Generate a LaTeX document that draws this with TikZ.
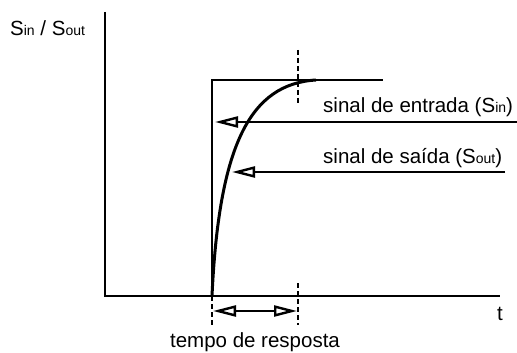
\documentclass[tikz,border=0pt]{standalone}
\usepackage{fontspec}
\setmainfont{Liberation Sans}
\usetikzlibrary{arrows.meta}
\newcommand{\sub}[1]{{\fontsize{14}{14}\selectfont #1}}
\tikzset{
  axis/.style={line width=2.5pt},
  signal/.style={line width=3pt},
  guide/.style={line width=1.6pt, dash pattern=on 5pt off 3pt},
  pointer/.style={line width=2.4pt, -{Triangle[open,length=23pt,width=11pt]}},
  label/.style={inner sep=0pt, anchor=base west, font=\fontsize{20.5}{24}\selectfont}
}
\begin{document}
\begin{tikzpicture}[x=1pt, y=-1pt]
  \useasboundingbox (0,0) rectangle (517,353);
  % axes
  \coordinate (o) at (105,296);
  \coordinate (ytop) at (105,12);
  \coordinate (xend) at (500,296);
  \draw[axis] (ytop) -- (o) -- (xend);
  \node[label] (ylab) at (10,36) {S\sub{in} / S\sub{out}};
  \node[label] (tlab) at (497,320) {t};
  % step input
  \coordinate (s0) at (212,296);
  \coordinate (s1) at (212,80);
  \coordinate (s2) at (383,80);
  \draw[axis] (s0) -- (s1) -- (s2);
  % output response
  \coordinate (r1) at (316,80);
  \draw[signal] (s0) .. controls (219,145) and (250,84) .. (r1);
  % response time markers
  \draw[guide] (298,50) -- (298,105);
  \draw[guide] (s0) -- (212,325);
  \draw[guide] (298,283) -- (298,325);
  \coordinate (ta) at (213,311);
  \coordinate (tb) at (297,311);
  \draw[pointer, {Triangle[open,length=23pt,width=11pt]}-{Triangle[open,length=23pt,width=11pt]}] (ta) -- (tb);
  \node[inner sep=0pt, anchor=base, font=\fontsize{20.5}{24}\selectfont] (resp) at (255,347) {tempo de resposta};
  % signal labels
  \node[label] (inlab) at (323,113) {sinal de entrada (S\sub{in})};
  \node[label] (outlab) at (323,163) {sinal de saída (S\sub{out})};
  \coordinate (in0) at (517,122);
  \coordinate (in1) at (215,122);
  \coordinate (out0) at (505,172);
  \coordinate (out1) at (232,172);
  \draw[pointer] (in0) -- (in1);
  \draw[pointer] (out0) -- (out1);
\end{tikzpicture}
\end{document}
